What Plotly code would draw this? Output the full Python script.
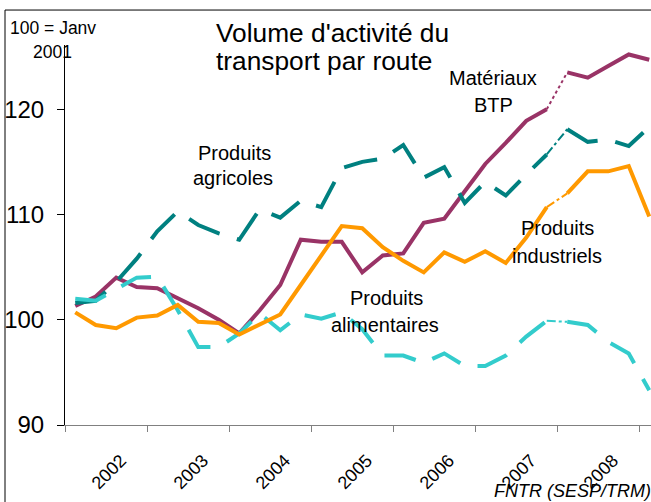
import plotly.graph_objects as go

# ---------------- data ----------------
quarters = [f"{y}T{q}" for y in range(2002, 2009) for q in (1, 2, 3, 4)] + ["2009T1"]
years = ["2002", "2003", "2004", "2005", "2006", "2007", "2008"]
y_ticks = [90, 100, 110, 120]

btp = [101.3, 102.2, 104.0, 103.1, 103.0, 102.1, 101.1, 100.0, 98.7, 100.9,
       103.3, 107.6, 107.4, 107.4, 104.5, 106.1, 106.3, 109.2, 109.6, 112.2,
       114.8, 116.8, 118.9, 120.0, 123.5, 123.0, 124.1, 125.2, 124.7]
agricoles = [101.6, 101.8, 103.6, 105.8, 108.4, 110.3, 109.0, 108.2, 107.6, 110.5,
             109.7, 111.3, 110.7, 114.4, 115.0, 115.3, 116.6, 113.5, 114.5, 111.1,
             113.1, 111.8, 113.8, 115.7, 118.1, 116.9, 117.1, 116.5, 118.3]
alimentaires = [102.0, 101.8, 102.9, 104.0, 104.1, 100.9, 97.4, 97.4, 98.7, 100.6,
                99.0, 100.5, 100.1, 100.7, 99.1, 96.6, 96.6, 95.9, 96.8, 95.6,
                95.6, 96.6, 98.4, 99.9, 99.8, 99.5, 97.9, 96.8, 93.3]
industriels = [100.7, 99.5, 99.2, 100.2, 100.4, 101.4, 99.8, 99.7, 98.6, 99.6,
               100.5, 103.3, 106.1, 108.9, 108.7, 106.9, 105.6, 104.5, 106.4, 105.5,
               106.5, 105.4, 107.8, 110.7, 112.0, 114.1, 114.1, 114.6, 109.8]

# ---------------- layout helpers ----------------
W, H = 651, 502
L, R, T, B = 65, 0, 45, 76.5
PW, PH = W - L - R, H - T - B
FONT = "Liberation Sans, Arial, sans-serif"


def px(x):
    return (x - L) / PW


def py(y):
    return (H - B - y) / PH


x = list(range(len(quarters)))
brk = quarters.index("2008T1")

fig = go.Figure()

series = [
    (btp, "#993366", None, "dot"),
    (agricoles, "#008080", "34px,18px", "dashdot"),
    (alimentaires, "#33CCCC", "32px,18px", "dashdot"),
    (industriels, "#FF9900", None, "dashdot"),
]
for vals, color, dash, cdash in series:
    fig.add_trace(go.Scatter(x=x[:brk], y=vals[:brk], mode="lines",
                             line=dict(color=color, width=4, dash=dash),
                             showlegend=False, hoverinfo="skip"))
    fig.add_trace(go.Scatter(x=x[brk - 1:brk + 1], y=vals[brk - 1:brk + 1], mode="lines",
                             line=dict(color=color, width=2, dash=cdash),
                             showlegend=False, hoverinfo="skip"))
    fig.add_trace(go.Scatter(x=x[brk:], y=vals[brk:], mode="lines",
                             line=dict(color=color, width=4, dash=dash),
                             showlegend=False, hoverinfo="skip"))

year_start = [quarters.index(y + "T1") for y in years]
boundaries = [s - 0.5 for s in year_start] + [quarters.index("2009T1") - 0.5]
label_pos = [s + 1.5 for s in year_start]

fig.update_xaxes(
    range=[-0.5, -0.5 + PW / 20.5],
    tickmode="array", tickvals=label_pos, ticktext=years,
    ticks="", tickangle=-45, ticklabelshift=15, ticklabelstandoff=17,
    tickfont=dict(family=FONT, size=18, color="black"),
    showline=True, linecolor="#808080", linewidth=1,
    showgrid=False, zeroline=False,
    minor=dict(tickmode="array", tickvals=boundaries, ticks="outside",
               ticklen=6, tickcolor="#808080", tickwidth=1, showgrid=False),
)
fig.update_yaxes(
    range=[90, 126.1], tickmode="array", tickvals=y_ticks,
    ticks="outside", ticklen=7, tickcolor="black", tickwidth=1,
    ticklabelstandoff=8,
    tickfont=dict(family=FONT, size=24, color="black"),
    showline=True, linecolor="black", linewidth=1,
    showgrid=False, zeroline=False,
)


def text(t, cx, baseline, size, italic=False, xanchor="center"):
    fig.add_annotation(
        x=px(cx), y=py(baseline - 0.33 * size), xref="paper", yref="paper",
        text=f"<i>{t}</i>" if italic else t, showarrow=False,
        xanchor=xanchor, yanchor="middle",
        font=dict(family=FONT, size=size, color="black"),
    )


text("Volume d'activité du", 332, 41.7, 26.3)
text("transport par route", 324, 69.3, 26.3)
text("100 = Janv", 52.6, 33.3, 17.5)
text("2001", 52.6, 57.3, 17.5)
text("Matériaux", 493, 85, 20)
text("BTP", 493, 111.7, 20)
text("Produits", 234, 160, 20)
text("agricoles", 233, 185, 20)
text("Produits", 557, 235, 20)
text("industriels", 557, 262.7, 20)
text("Produits", 386, 305, 20)
text("alimentaires", 385, 331.7, 20)
text("FNTR (SESP/TRM)", 653, 497.5, 18, italic=True, xanchor="right")

fig.add_shape(type="rect", xref="paper", yref="paper",
              x0=px(5), y0=-0.5, x1=1.3, y1=py(10),
              line=dict(color="black", width=1), layer="above")

fig.update_layout(
    width=W, height=H, margin=dict(l=L, r=R, t=T, b=B, autoexpand=False),
    paper_bgcolor="white", plot_bgcolor="white",
    font=dict(family=FONT, color="black"),
)
fig.write_html("out.html", config={"displayModeBar": False},
               post_script="document.body.style.margin='0';document.body.style.overflow='hidden';")
